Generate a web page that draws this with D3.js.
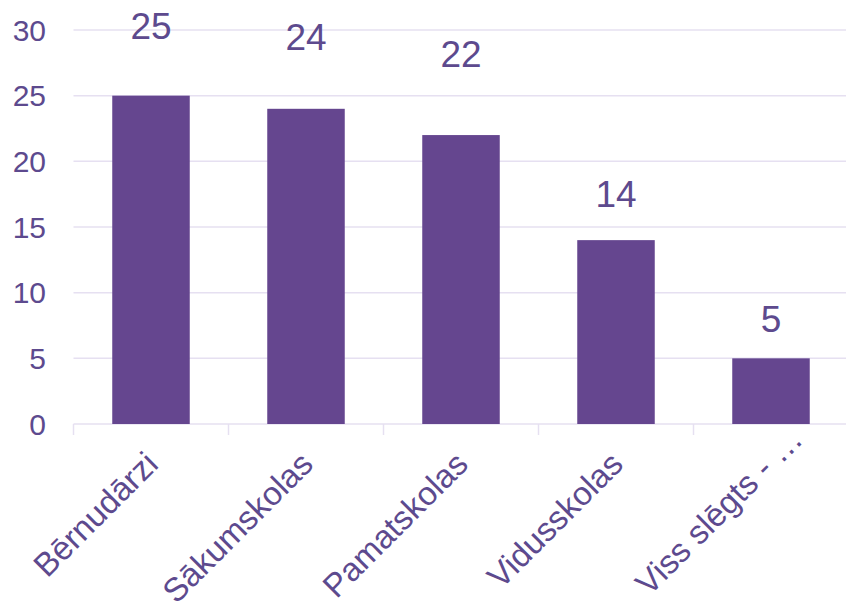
<!DOCTYPE html>
<html lang="lv">
  <head>
    <meta charset="UTF-8" />
    <title>Bar Chart</title>
    <style>
      body { margin: 0; background: #fff; }
      svg { display: block; }
      text { font-family: "Liberation Sans", Arial, sans-serif; fill: #5d4a8e; }
      .grid line { stroke: #e6e0f1; stroke-width: 1.5; }
      .bar { fill: #65468f; }
    </style>
  </head>
  <body>
    <script src="https://cdn.jsdelivr.net/npm/d3@7"></script>
    <script>

    // data
    var categories = ["Bērnudārzi", "Sākumskolas", "Pamatskolas", "Vidusskolas", "Viss slēgts - …"];
    var values = [25, 24, 22, 14, 5];
    var yTicks = [0, 5, 10, 15, 20, 25, 30];

    // the value labels sit at uneven heights above the bars in the original
    var labelLift = [57, 59, 68, 33, 26];

    var w = 846,
        h = 610;

    var svg = d3.select("body").append("svg")
      .attr("width", w)
      .attr("height", h);

    var xScale = d3.scaleBand()
      .domain(categories)
      .range([73.5, 848.5])
      .paddingInner(0.5)
      .paddingOuter(0.25);

    var yScale = d3.scaleLinear()
      .domain([0, 30])
      .range([424, 30]);

    // gridlines
    svg.append("g")
       .attr("class", "grid")
       .selectAll("line")
       .data(yTicks)
       .enter().append("line")
       .attr("x1", 73.5)
       .attr("x2", w)
       .attr("y1", function(d) { return yScale(d); })
       .attr("y2", function(d) { return yScale(d); });

    // tick marks between categories on the base line
    var step = xScale.step();
    svg.append("g")
       .attr("class", "grid")
       .selectAll("line")
       .data(d3.range(categories.length + 1))
       .enter().append("line")
       .attr("x1", function(i) { return 73.5 + i * step; })
       .attr("x2", function(i) { return 73.5 + i * step; })
       .attr("y1", yScale(0))
       .attr("y2", yScale(0) + 11);

    // y tick labels
    svg.append("g")
       .selectAll("text")
       .data(yTicks)
       .enter().append("text")
       .attr("x", 46)
       .attr("y", function(d) { return yScale(d); })
       .attr("dy", "0.36em")
       .attr("text-anchor", "end")
       .style("font-size", "30px")
       .text(function(d) { return d; });

    // bars
    svg.append("g")
       .selectAll("rect")
       .data(values)
       .enter().append("rect")
       .attr("class", "bar")
       .attr("x", function(d, i) { return xScale(categories[i]); })
       .attr("width", xScale.bandwidth())
       .attr("y", function(d) { return yScale(d); })
       .attr("height", function(d) { return yScale(0) - yScale(d); });

    // value labels
    svg.append("g")
       .selectAll("text")
       .data(values)
       .enter().append("text")
       .attr("x", function(d, i) { return xScale(categories[i]) + xScale.bandwidth() / 2; })
       .attr("y", function(d, i) { return yScale(d) - labelLift[i]; })
       .attr("text-anchor", "middle")
       .style("font-size", "37px")
       .text(function(d) { return d; });

    // rotated category labels
    // (the truncated one is pushed along its baseline, as in the original)
    svg.append("g")
       .selectAll("text")
       .data(categories)
       .enter().append("text")
       .attr("transform", function(d) {
         var cx = xScale(d) + xScale.bandwidth() / 2;
         return "translate(" + (cx + 9) + "," + 466 + ") rotate(-45)";
       })
       .attr("dx", function(d) { return d.slice(-1) == "…" ? "1.05em" : 0; })
       .attr("text-anchor", "end")
       .style("font-size", "33px")
       .text(function(d) { return d; });

    </script>
  </body>
</html>
